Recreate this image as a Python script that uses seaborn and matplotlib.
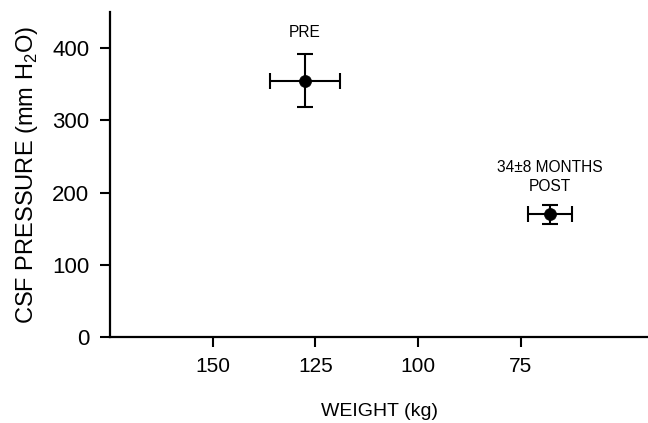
import matplotlib
matplotlib.use("Agg")
import matplotlib.pyplot as plt
import seaborn as sns
import pandas as pd

labels = ["PRE", "34\u00b18 MONTHS\nPOST"]
weight = [127.6, 67.9]
weight_err = [8.5, 5.3]
pressure = [355.0, 170.0]
pressure_err = [36.6, 13.0]
x_ticks = [150, 125, 100, 75]
y_ticks = [0, 100, 200, 300, 400]

sns.set_style("ticks")
plt.rcParams['font.family'] = ['Liberation Sans', 'DejaVu Sans']
plt.rcParams['mathtext.fontset'] = 'custom'
plt.rcParams['mathtext.rm'] = 'Liberation Sans'
plt.rcParams['text.color'] = 'black'
plt.rcParams['axes.labelcolor'] = 'black'

df = pd.DataFrame({"weight": weight, "pressure": pressure, "label": labels})

fig = plt.figure(figsize=(6.48, 4.23), dpi=100)
ax = fig.add_axes([0.17, 0.203, 0.83, 0.769])

ax.errorbar(df["weight"], df["pressure"], xerr=weight_err, yerr=pressure_err,
            fmt="none", ecolor="black", elinewidth=1.5, capsize=6, capthick=1.5, zorder=2)
sns.scatterplot(data=df, x="weight", y="pressure", color="black", s=75,
                edgecolor="black", linewidth=0.5, ax=ax, zorder=3, legend=False)

offsets = [10, 8]
for xv, yv, ye, lab, off in zip(weight, pressure, pressure_err, labels, offsets):
    ax.annotate(lab, (xv, yv + ye), xytext=(0, off), textcoords="offset points",
                ha="center", va="bottom", fontsize=11.2, linespacing=1.3,
                color="black")

ax.set_xlim(175, 44)
ax.set_ylim(0, 450)
ax.set_xticks(x_ticks)
ax.set_yticks(y_ticks)
ax.tick_params(axis="both", length=7, width=1.5, colors="black")
ax.tick_params(axis="x", labelsize=15, pad=7)
ax.tick_params(axis="y", labelsize=16, pad=8)
ax.set_xlabel("WEIGHT (kg)", fontsize=14, labelpad=20)
ax.set_ylabel(r"CSF PRESSURE (mm H$_2$O)", fontsize=17, labelpad=9)
for s in ["left", "bottom"]:
    ax.spines[s].set_linewidth(1.6)
    ax.spines[s].set_color("black")
sns.despine(ax=ax)

fig.savefig("out.png", dpi=100)
